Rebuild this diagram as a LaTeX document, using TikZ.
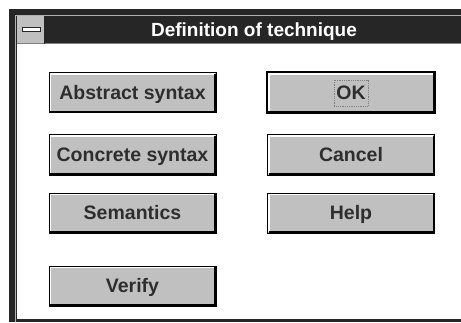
\documentclass[tikz,border=0pt]{standalone}
\usepackage{fontspec}
\setmainfont{Liberation Sans}
\usepackage{tikz}
\definecolor{framedark}{HTML}{262626}
\definecolor{btngray}{HTML}{C0C0C0}
\definecolor{btntext}{HTML}{2E2E2E}
\tikzset{
   winbutton/.style={
      draw=black,
      fill=btngray,
      line width=1pt,
      minimum width=167pt,
      minimum height=40pt,
      inner sep=0pt,
      text height=13.6pt,
      text depth=0pt,
      text=btntext,
      font=\bfseries\fontsize{19.5}{19.5}\selectfont
   },
   defaultbutton/.style={
      winbutton,
      line width=3pt
   }
}

\begin{document}
\begin{tikzpicture}[x=1pt,y=1pt]
   \useasboundingbox (0,0) rectangle (461,322);
   \clip (0,0) rectangle (461,322);
   \fill[white] (0,0) rectangle (461,322);
   
   % window frame and title bar
   \fill[framedark] (9,0) rectangle (470,313);
   \draw[gray!60, line width=1pt] (15.5,0) |- (470,306.5);
   \fill[white] (17,3) rectangle (470,278);
   \fill[framedark] (17,278) rectangle (470,306);
   \draw[gray, line width=1pt] (17,278.5) -- (470,278.5);
   \node[
      name=menubox,
      fill=btngray,
      minimum width=27pt,
      minimum height=27pt,
      inner sep=0pt
   ] at (30.5,292) {};
   \draw[framedark, line width=1pt] (menubox.north east) -- (menubox.south east);
   \draw[framedark, fill=white, line width=1pt] (22.5,290.5) rectangle (40.5,294);
   \node[
      name=title,
      text=white,
      inner sep=0pt,
      text height=13.6pt,
      text depth=0pt,
      font=\bfseries\fontsize{19}{19}\selectfont
   ] at (254,292) {Definition of technique};
   
   % buttons
   \node[winbutton] (abstract) at (132.5,229) {Abstract syntax};
   \node[winbutton] (concrete) at (132.5,167) {Concrete syntax};
   \node[winbutton] (semantics) at (132.5,109) {Semantics};
   \node[winbutton] (verify) at (132.5,36) {Verify};
   \node[defaultbutton] (ok) at (351,229) {OK};
   \node[winbutton] (cancel) at (351,167) {Cancel};
   \node[winbutton] (help) at (351,109) {Help};
   
   \foreach \b in {abstract,concrete,semantics,verify,cancel,help}
   {
      \draw[white, line width=1.5pt]
      ([shift={(2,2)}]\b.south west) |- ([shift={(-2,-1.75)}]\b.north east);
      \draw[black, line width=2pt]
      ([shift={(1.5,1.5)}]\b.south west) -| ([shift={(-1.5,-1.5)}]\b.north east);
   }
   \draw[white, line width=1.5pt]
   ([shift={(3,3)}]ok.south west) |- ([shift={(-3,-2.75)}]ok.north east);
   \draw[black, line width=2pt]
   ([shift={(2.5,2.5)}]ok.south west) -| ([shift={(-2.5,-2.5)}]ok.north east);
   
   % focus rectangle
   \draw[gray, densely dotted, line width=0.8pt]
   ([shift={(-17,-13)}]ok.center) rectangle ([shift={(17,13)}]ok.center);
   
\end{tikzpicture}
\end{document}
